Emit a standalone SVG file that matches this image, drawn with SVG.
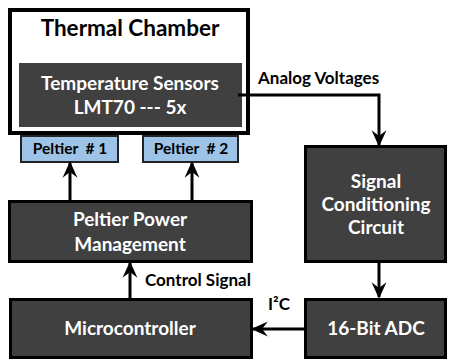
<svg xmlns="http://www.w3.org/2000/svg" width="450" height="362" viewBox="0 0 450 362">
<defs>
<marker id="ah" viewBox="0 0 10 10" refX="9" refY="5" markerWidth="5.5" markerHeight="5.5" markerUnits="strokeWidth" orient="auto">
<path d="M0,0.5 L10,5 L0,9.5 L3.5,5 Z" fill="#000"/>
</marker>
<style>
text{font-family:Lato,"Open Sans",sans-serif;font-weight:bold;text-anchor:middle}
.box{fill:#404040;stroke:#000;stroke-width:3}
.wt{fill:#fff;font-size:19px}
.pel{fill:#9dc3e6;stroke:#222;stroke-width:2}
.pt{fill:#000;font-size:15.5px;white-space:pre}
.lbl{fill:#000;font-size:17px;text-anchor:start}
.con{fill:none;stroke:#000;stroke-width:3;marker-end:url(#ah)}
</style>
</defs>
<rect width="450" height="362" fill="#fff"/>
<g id="chamber">
<rect x="10" y="10" width="238" height="123" fill="#fff" stroke="#000" stroke-width="4"/>
<text x="130" y="36" style="font-size:22.5px" fill="#000">Thermal Chamber</text>
</g>
<g id="sensors">
<rect x="19" y="63" width="223" height="64" fill="#404040"/>
<text class="wt" x="130" y="90">Temperature Sensors</text>
<text class="wt" x="130" y="114">LMT70 --- 5x</text>
</g>
<g id="peltier1">
<rect class="pel" x="21" y="136" width="97" height="26"/>
<text class="pt" x="70" y="154" xml:space="preserve">Peltier  # 1</text>
</g>
<g id="peltier2">
<rect class="pel" x="143" y="136" width="95" height="26"/>
<text class="pt" x="191" y="154" xml:space="preserve">Peltier  # 2</text>
</g>
<g id="ppm">
<rect class="box" x="9.5" y="201.5" width="242" height="60"/>
<text class="wt" x="130" y="226">Peltier Power</text>
<text class="wt" x="130" y="251">Management</text>
</g>
<g id="mcu">
<rect class="box" x="10.5" y="299.5" width="241" height="58"/>
<text class="wt" x="130" y="335">Microcontroller</text>
</g>
<g id="scc">
<rect class="box" x="305.5" y="146.5" width="140" height="115"/>
<text class="wt" x="376" y="188">Signal</text>
<text class="wt" x="376" y="211">Conditioning</text>
<text class="wt" x="376" y="234">Circuit</text>
</g>
<g id="adc">
<rect class="box" x="305.5" y="299.5" width="140" height="58"/>
<text class="wt" x="376" y="335">16-Bit ADC</text>
</g>
<g id="connectors">
<path class="con" d="M70,201 V163"/>
<path class="con" d="M192,201 V163"/>
<path class="con" d="M130,299 V263"/>
<path class="con" d="M238,95 H379 V145"/>
<path class="con" d="M379,262 V297"/>
<path class="con" d="M305,329 H253"/>
<text class="lbl" x="258" y="84">Analog Voltages</text>
<text class="lbl" x="145" y="286">Control Signal</text>
<text class="lbl" x="268" y="310">I²C</text>
</g>
</svg>
